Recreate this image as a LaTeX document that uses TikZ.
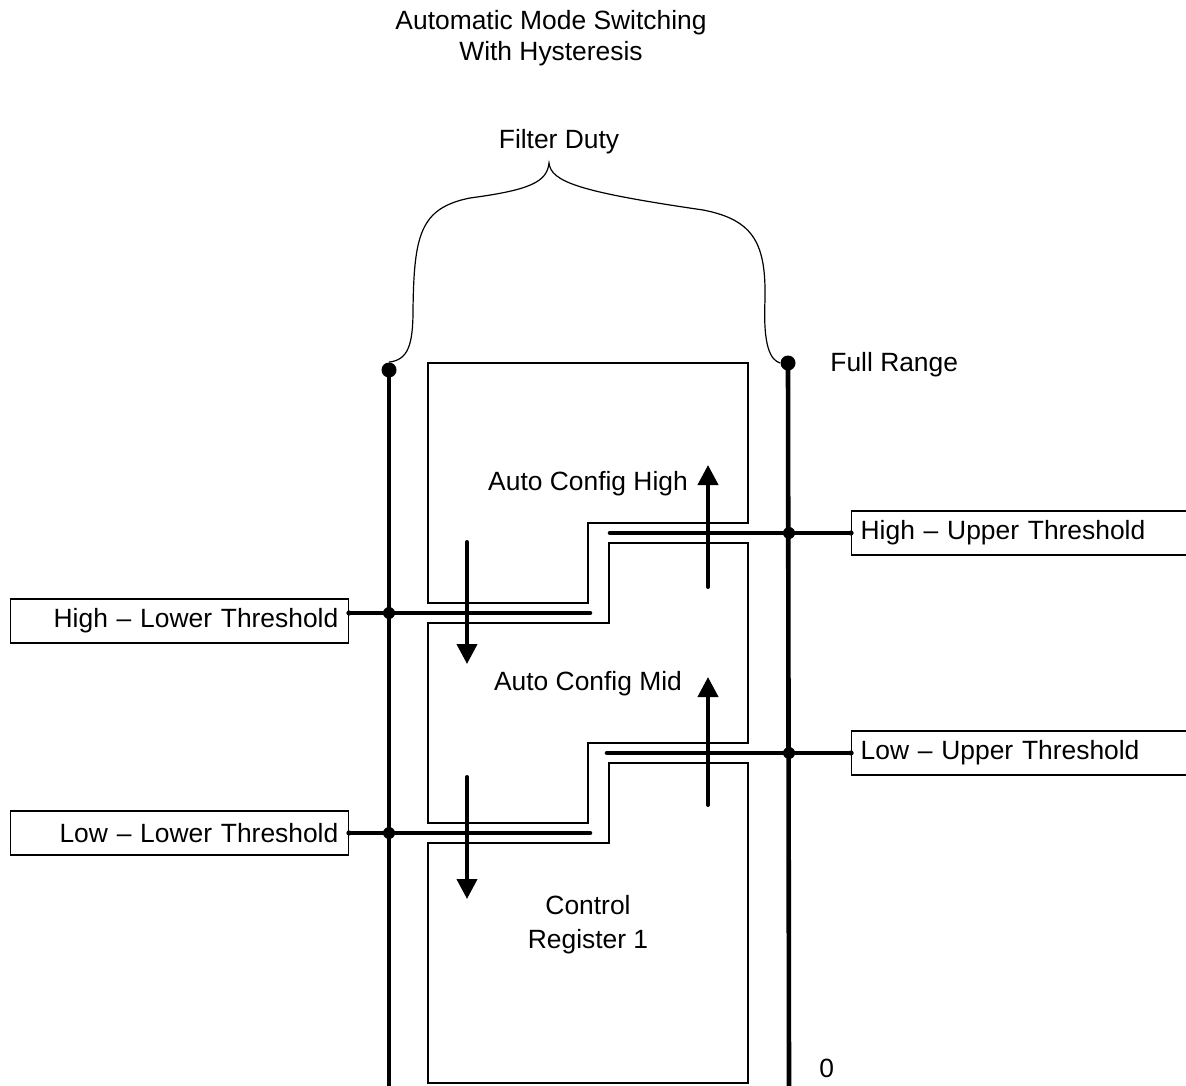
\documentclass[tikz,border=0pt]{standalone}
\usepackage{fontspec}
\setmainfont{Liberation Sans}
\usetikzlibrary{arrows.meta}
\begin{document}
\begin{tikzpicture}[x=0.5pt,y=-0.5pt,
  txt/.style={font=\fontsize{13.2}{16.5}\selectfont, inner sep=0pt},
  thinline/.style={line width=0.65pt},
  axis/.style={line width=2.3pt},
  arr/.style={line width=2pt, -{Triangle[width=10pt,length=10pt]}},
  dot/.style={circle, fill=black, inner sep=0pt, minimum size=6pt},
  tinydot/.style={circle, fill=black, inner sep=0pt, minimum size=2.6pt},
  bigdot/.style={circle, fill=black, inner sep=0pt, minimum size=7.5pt},
  lbox/.style={draw, line width=0.65pt, font=\fontsize{13.2}{16.5}\selectfont,
    minimum height=22pt, inner ysep=0pt},
  lboxl/.style={lbox, text width=159pt, inner xsep=5pt, align=right, anchor=east},
  lboxr/.style={lbox, text width=170pt, inner xsep=4.5pt, align=left, anchor=west}]
\useasboundingbox (0,0) rectangle (1186,1085);
% titles
\node[txt, align=center] (title) at (551,38) {Automatic Mode Switching\\[-1pt]With Hysteresis};
\node[txt] (fduty) at (559,142) {Filter Duty};
% mode boxes
\draw[thinline] (428,363) -- (748,363) -- (748,523) -- (588,523) -- (588,603) -- (428,603) -- cycle;
\draw[thinline] (428,623) -- (609,623) -- (609,543) -- (748,543) -- (748,743) -- (588,743) -- (588,823) -- (428,823) -- cycle;
\draw[thinline] (428,843) -- (609,843) -- (609,763) -- (748,763) -- (748,1083) -- (428,1083) -- cycle;
\node[txt] (high) at (588,484) {Auto Config High};
\node[txt] (mid) at (588,684) {Auto Config Mid};
\node[txt, align=center] (ctrl) at (588,925) {Control\\[0.5pt]Register 1};
% axes
\node[bigdot] (ltop) at (389,370) {};
\node[bigdot] (rtop) at (788,363) {};
\coordinate (lbot) at (389,1090);
\coordinate (rbot) at (789,1090);
\draw[axis] (ltop.center) -- (lbot);
\draw[axis] (rtop.center) -- (rbot);
\node[txt, anchor=west] (full) at (830,365) {Full Range};
\node[txt, anchor=west] (zero) at (819,1068) {0};
% brace
\draw[line width=0.6pt] (ltop.north)
  .. controls (408,360) and (413,345) .. (413,310)
  .. controls (414,235) and (420,208) .. (470,198)
  .. controls (530,190) and (547,182) .. (549,163)
  .. controls (551,182) and (580,192) .. (703,210)
  .. controls (755,220) and (766,245) .. (765,300)
  .. controls (763,345) and (770,360) .. (rtop.west);
% threshold labels
\node[lboxl] (hlt) at (349,621) {High -- Lower Threshold};
\node[lboxl] (llt) at (349,833) {Low -- Lower Threshold};
\node[lboxr] (hut) at (851,533) {High -- Upper Threshold};
\node[lboxr] (lut) at (851,753) {Low -- Upper Threshold};
% threshold lines
\coordinate (hltend) at (590,613);
\coordinate (lltend) at (590,833);
\coordinate (hutend) at (610,533);
\coordinate (lutend) at (607,753);
\draw[axis, line cap=round] (hlt.east |- hltend) -- (hltend);
\draw[axis, line cap=round] (llt.east |- lltend) -- (lltend);
\draw[axis, line cap=round] (hut.west |- hutend) -- (hutend);
\draw[axis, line cap=round] (lut.west |- lutend) -- (lutend);
\node[tinydot] (t1) at (hlt.east |- hltend) {};
\node[tinydot] (t2) at (llt.east |- lltend) {};
\node[tinydot] (t3) at (hut.west |- hutend) {};
\node[tinydot] (t4) at (lut.west |- lutend) {};
\node[dot] (d1) at (389,613) {};
\node[dot] (d2) at (389,833) {};
\node[dot] (d3) at (789,533) {};
\node[dot] (d4) at (789,753) {};
% transition arrows
\coordinate (a1s) at (467,542); \coordinate (a1e) at (467,664);
\coordinate (a2s) at (708,587); \coordinate (a2e) at (708,465);
\coordinate (a3s) at (467,777); \coordinate (a3e) at (467,899);
\coordinate (a4s) at (708,805); \coordinate (a4e) at (708,677);
\draw[arr, line cap=round] (a1s) -- (a1e);
\draw[arr, line cap=round] (a2s) -- (a2e);
\draw[arr, line cap=round] (a3s) -- (a3e);
\draw[arr, line cap=round] (a4s) -- (a4e);
\end{tikzpicture}
\end{document}
